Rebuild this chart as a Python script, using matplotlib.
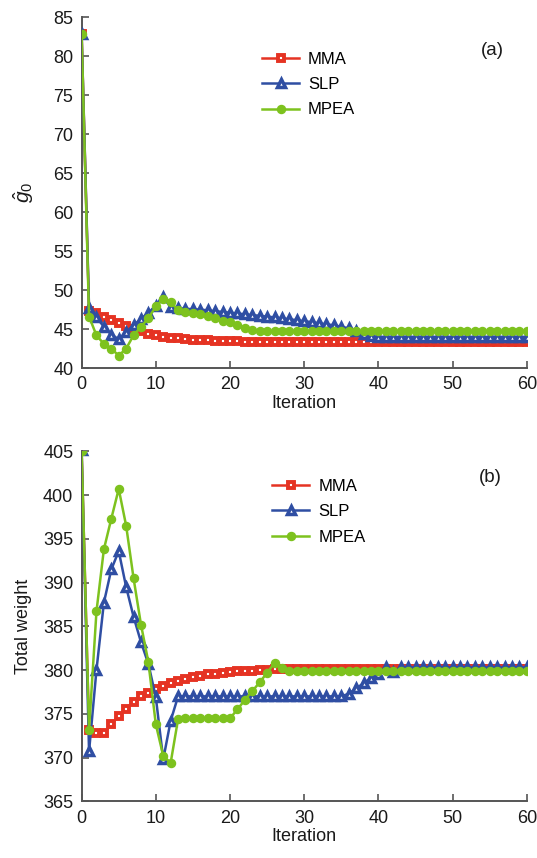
import matplotlib
matplotlib.use('Agg')
import matplotlib.pyplot as plt

plt.rcParams['font.family'] = ['Liberation Sans', 'DejaVu Sans']
plt.rcParams['mathtext.fontset'] = 'custom'
plt.rcParams['mathtext.rm'] = 'Liberation Sans'
plt.rcParams['mathtext.it'] = 'Liberation Sans:italic'

iterations = list(range(61))

# (a) objective g0
mma_a = [82.8, 47.3, 47.0, 46.6, 46.2, 45.8, 45.4, 45.0, 44.7, 44.4,
         44.2, 44.0, 43.9, 43.8, 43.7, 43.65, 43.6, 43.55, 43.5, 43.5,
         43.45, 43.45, 43.4, 43.4, 43.4, 43.4, 43.35, 43.35, 43.35, 43.35,
         43.35, 43.35, 43.3, 43.3, 43.3, 43.3, 43.3, 43.3, 43.3, 43.3,
         43.3, 43.3, 43.3, 43.3, 43.3, 43.3, 43.3, 43.3, 43.3, 43.3,
         43.3, 43.3, 43.3, 43.3, 43.3, 43.3, 43.3, 43.3, 43.3, 43.3, 43.3]
slp_a = [82.9, 47.7, 46.5, 45.3, 44.3, 43.7, 44.6, 45.5, 46.3, 47.1,
         48.0, 49.1, 47.8, 47.7, 47.6, 47.55, 47.5, 47.4, 47.3, 47.2,
         47.1, 47.0, 46.9, 46.8, 46.7, 46.6, 46.5, 46.4, 46.25, 46.15,
         46.0, 45.9, 45.75, 45.6, 45.5, 45.3, 45.1, 44.8, 44.4, 44.1,
         44.0, 44.0, 44.0, 44.0, 44.0, 44.0, 44.0, 44.0, 44.0, 44.0,
         44.0, 44.0, 44.0, 44.0, 44.0, 44.0, 44.0, 44.0, 44.0, 44.0, 44.0]
mpea_a = [82.8, 46.6, 44.2, 43.1, 42.5, 41.6, 42.5, 44.2, 45.3, 46.4,
          47.9, 48.9, 48.5, 47.4, 47.2, 47.1, 46.9, 46.7, 46.4, 46.1,
          45.9, 45.5, 45.2, 44.9, 44.8, 44.7, 44.7, 44.7, 44.7, 44.7,
          44.7, 44.7, 44.7, 44.7, 44.7, 44.7, 44.7, 44.7, 44.7, 44.7,
          44.7, 44.7, 44.7, 44.7, 44.7, 44.7, 44.7, 44.7, 44.7, 44.7,
          44.7, 44.7, 44.7, 44.7, 44.7, 44.7, 44.7, 44.7, 44.7, 44.7, 44.7]

# (b) total weight
mma_b = [405.0, 373.2, 372.8, 372.8, 373.8, 374.8, 375.6, 376.4, 377.0, 377.4,
         377.8, 378.2, 378.5, 378.8, 379.0, 379.2, 379.35, 379.5, 379.6, 379.7,
         379.8, 379.85, 379.9, 379.95, 380.0, 380.05, 380.1, 380.1, 380.1, 380.1,
         380.1, 380.1, 380.1, 380.1, 380.1, 380.1, 380.1, 380.1, 380.1, 380.1,
         380.1, 380.1, 380.1, 380.1, 380.1, 380.1, 380.1, 380.1, 380.1, 380.1,
         380.1, 380.1, 380.1, 380.1, 380.1, 380.1, 380.1, 380.1, 380.1, 380.1, 380.1]
slp_b = [405.2, 370.7, 380.0, 387.7, 391.5, 393.6, 389.5, 386.1, 383.2, 380.7,
         376.9, 369.8, 374.2, 377.0, 377.0, 377.0, 377.0, 377.0, 377.0, 377.0,
         377.0, 377.0, 377.0, 377.0, 377.0, 377.0, 377.0, 377.0, 377.0, 377.0,
         377.0, 377.0, 377.0, 377.0, 377.0, 377.0, 377.3, 377.9, 378.5, 379.1,
         379.5, 380.3, 379.8, 380.3, 380.3, 380.3, 380.3, 380.3, 380.3, 380.3,
         380.3, 380.3, 380.3, 380.3, 380.3, 380.3, 380.3, 380.3, 380.3, 380.3, 380.3]
mpea_b = [405.0, 373.2, 386.7, 393.8, 397.3, 400.7, 396.5, 390.5, 385.2, 380.9,
          373.8, 370.2, 369.4, 374.4, 374.5, 374.5, 374.5, 374.5, 374.5, 374.5,
          374.5, 375.5, 376.6, 377.6, 378.6, 379.7, 380.8, 380.2, 379.95, 379.95,
          379.95, 379.95, 379.95, 379.95, 379.95, 379.95, 379.95, 379.95, 379.95, 379.95,
          379.95, 379.95, 379.95, 379.95, 379.95, 379.95, 379.95, 379.95, 379.95, 379.95,
          379.95, 379.95, 379.95, 379.95, 379.95, 379.95, 379.95, 379.95, 379.95, 379.95, 379.95]

labels = ['MMA', 'SLP', 'MPEA']
red = '#e53323'
blue = '#2f4ea3'
green = '#7dc21e'
spine_color = '#555555'
text_color = '#1a1a1a'


def drawSeries(ax, mma, slp, mpea):
    ax.plot(iterations, mma, color=red, lw=1.8, marker='s', ms=4.4,
            mfc='white', mec=red, mew=2.8, label=labels[0], zorder=2)
    ax.plot(iterations, slp, color=blue, lw=1.8, marker='^', ms=5.6,
            mfc='white', mec=blue, mew=2.5, label=labels[1], zorder=3)
    ax.plot(iterations, mpea, color=green, lw=1.8, marker='o', ms=5.8,
            mfc=green, mec=green, label=labels[2], zorder=4)


def styleAxes(ax, ylo, yhi, ylabel, tag, legend_anchor, tag_pos, ylabel_size, ylabel_pad):
    ax.set_xlim(0, 60)
    ax.set_ylim(ylo, yhi)
    ax.set_xticks(range(0, 61, 10))
    ax.set_yticks(range(ylo, yhi + 1, 5))
    for side in ['top', 'right']:
        ax.spines[side].set_visible(False)
    for side in ['left', 'bottom']:
        ax.spines[side].set_color(spine_color)
        ax.spines[side].set_linewidth(1.4)
    ax.tick_params(direction='in', length=5, width=1.2, color=spine_color,
                   labelsize=13, labelcolor=text_color, pad=6)
    ax.set_xlabel('Iteration', fontsize=13, color=text_color, labelpad=1)
    ax.set_ylabel(ylabel, fontsize=ylabel_size, color=text_color, labelpad=ylabel_pad)
    ax.legend(loc='upper left', bbox_to_anchor=legend_anchor, frameon=False,
              fontsize=12, handlelength=2.2, labelspacing=0.62,
              handletextpad=0.55, borderpad=0)
    ax.text(tag_pos[0], tag_pos[1], tag, transform=ax.transAxes,
            fontsize=13.5, ha='center', va='center', color=text_color)


fig = plt.figure(figsize=(5.37, 8.58), dpi=100)
ax1 = fig.add_axes([0.152, 0.571, 0.829, 0.409])
ax2 = fig.add_axes([0.152, 0.066, 0.829, 0.408])

drawSeries(ax1, mma_a, slp_a, mpea_a)
styleAxes(ax1, 40, 85, r'$\hat{g}_0$', '(a)', (0.387, 0.925), (0.922, 0.905), 15, 12)

drawSeries(ax2, mma_b, slp_b, mpea_b)
styleAxes(ax2, 365, 405, 'Total weight', '(b)', (0.41, 0.945), (0.918, 0.925), 13, 8)

fig.savefig('out.png', dpi=100)
